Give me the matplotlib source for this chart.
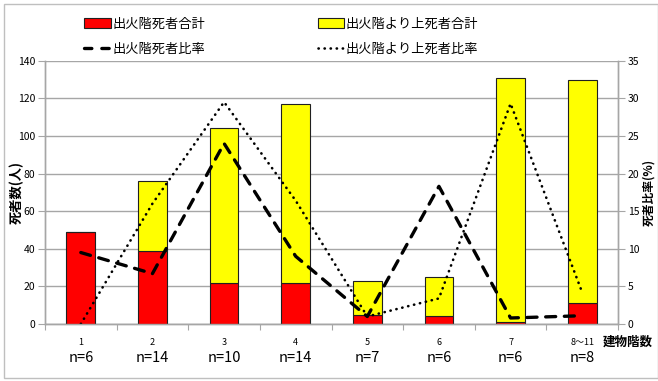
import matplotlib
matplotlib.use('Agg')
import matplotlib.pyplot as plt
from matplotlib.patches import Rectangle
from matplotlib.lines import Line2D
import numpy as np

plt.rcParams['font.family'] = ['Noto Sans CJK JP', 'DejaVu Sans']

# 建物階数ごとの集計
floors = ['1', '2', '3', '4', '5', '6', '7', '8～11']
n_counts = ['n=6', 'n=14', 'n=10', 'n=14', 'n=7', 'n=6', 'n=6', 'n=8']
fire_floor_deaths = [49, 39, 22, 22, 5, 4, 1, 11]
upper_floor_deaths = [0, 37, 82, 95, 18, 21, 130, 119]
fire_floor_rate = [9.5, 6.7, 24.0, 9.0, 1.0, 18.3, 0.8, 1.1]
upper_floor_rate = [0.0, 16.0, 29.5, 16.4, 1.0, 3.4, 29.3, 4.2]

GRID = '#a6a6a6'
DASH = dict(color='black', lw=2.4, dashes=(3.0, 2.6), dash_capstyle='round')
DOT = dict(color='black', lw=1.9, dashes=(0.1, 2.2), dash_capstyle='round')

fig = plt.figure(figsize=(6.58, 3.81), dpi=100)
ax = fig.add_axes([0.0684, 0.1496, 0.8708, 0.6911])
ax2 = ax.twinx()

x = np.arange(len(floors))
w = 0.4
ax.bar(x, fire_floor_deaths, w, color='#ff0000', edgecolor='#202020',
       linewidth=0.8, zorder=3)
ax.bar(x, upper_floor_deaths, w, bottom=fire_floor_deaths, color='#ffff00',
       edgecolor='#202020', linewidth=0.8, zorder=3)

ax2.plot(x, fire_floor_rate, **DASH)
ax2.plot(x, upper_floor_rate, **DOT)

ax.set_xlim(-0.5, len(floors) - 0.5)
ax.set_ylim(0, 140)
ax.set_yticks(range(0, 141, 20))
ax2.set_ylim(0, 35)
ax2.set_yticks(range(0, 36, 5))
ax.grid(axis='y', color=GRID, lw=1.0, zorder=0)
ax.set_axisbelow(True)

for a in (ax, ax2):
    for s in a.spines.values():
        s.set_color(GRID)
        s.set_linewidth(1.0)
    a.spines['top'].set_visible(False)

ax.tick_params(axis='y', length=5, color=GRID, labelsize=7.5, pad=2)
ax2.tick_params(axis='y', length=5, color=GRID, labelsize=7.5, pad=2)
ax.set_xticks(np.arange(-0.5, len(floors), 1.0))
ax.set_xticklabels([])
ax.tick_params(axis='x', length=4, color=GRID)

# 階数と件数を 2 段で表示
xt = ax.get_xaxis_transform()
for i, (f, n) in enumerate(zip(floors, n_counts)):
    ax.text(i, -0.07, f, transform=xt, ha='center', va='center', fontsize=6.5)
    ax.text(i, -0.13, n, transform=xt, ha='center', va='center', fontsize=10.5)
ax.text(1.017, -0.07, '建物階数', transform=ax.transAxes, ha='center',
        va='center', fontsize=9, fontweight='bold')

ax.set_ylabel('死者数(人)', fontsize=9.5, fontweight='bold')
ax.yaxis.set_label_coords(-0.036, 0.5)
ax2.set_ylabel('死者比率(%)', fontsize=8.5, fontweight='bold', rotation=90)
ax2.yaxis.set_label_coords(1.043, 0.5)

handles = [
    Rectangle((0, 0), 1, 1, fc='#ff0000', ec='#202020', lw=0.8),
    Line2D([], [], color='black', lw=2.4, dashes=(2.2, 3.0),
           dash_capstyle='round'),
    Rectangle((0, 0), 1, 1, fc='#ffff00', ec='#202020', lw=0.8),
    Line2D([], [], **DOT),
]
labels = ['出火階死者合計', '出火階死者比率', '出火階より上死者合計', '出火階より上死者比率']
fig.legend(handles, labels, ncol=2, loc='upper left',
           bbox_to_anchor=(0.11, 0.985), frameon=False, fontsize=9.5,
           handlelength=2.0, handletextpad=0.15, columnspacing=8.5,
           labelspacing=0.9)

# チャートエリアの枠線
fig.patches.append(Rectangle((0.006, 0.008), 0.994, 0.982,
                             transform=fig.transFigure, fill=False,
                             ec='#bfbfbf', lw=1.0))

fig.savefig('out.png', dpi=100)
